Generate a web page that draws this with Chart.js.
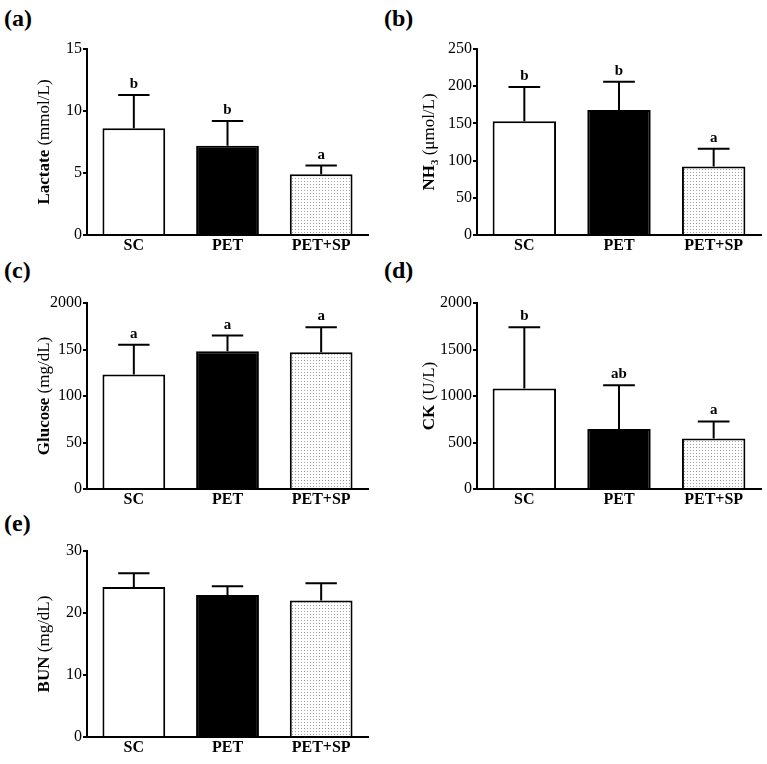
<!DOCTYPE html>
<html>
<head>
<meta charset="utf-8">
<script src="https://cdn.jsdelivr.net/npm/chart.js@4.4.1/dist/chart.umd.min.js"></script>
<style>
  body { margin: 0; background: #fff; }
  #wrap { position: relative; width: 767px; height: 764px; background: #fff; }
  .cell { position: absolute; }
  .tag { position: absolute; font: bold 24px "Liberation Serif", "Times New Roman", serif; color: #000; }
</style>
</head>
<body>
<div id="wrap">
  <div class="tag" style="left:4px;top:5px">(a)</div>
  <div class="tag" style="left:384px;top:5px">(b)</div>
  <div class="tag" style="left:4px;top:257px">(c)</div>
  <div class="tag" style="left:384px;top:257px">(d)</div>
  <div class="tag" style="left:4px;top:510px">(e)</div>
  <div class="cell" style="left:0;top:0;width:380px;height:254px"><canvas id="chartA"></canvas></div>
  <div class="cell" style="left:380px;top:0;width:387px;height:254px"><canvas id="chartB"></canvas></div>
  <div class="cell" style="left:0;top:254px;width:380px;height:254px"><canvas id="chartC"></canvas></div>
  <div class="cell" style="left:380px;top:254px;width:387px;height:254px"><canvas id="chartD"></canvas></div>
  <div class="cell" style="left:0;top:508px;width:380px;height:256px"><canvas id="chartE"></canvas></div>
</div>
<script>
// data
const groups = ['SC', 'PET', 'PET+SP'];

const lactateMean = [8.6, 7.2, 4.9];
const lactateSd = [2.7, 2.0, 0.7];
const lactateSig = ['b', 'b', 'a'];
const lactateTicks = ['0', '5', '10', '15'];

const nh3Mean = [153, 168, 92];
const nh3Sd = [46, 38, 24];
const nh3Sig = ['b', 'b', 'a'];
const nh3Ticks = ['0', '50', '100', '150', '200', '250'];

const glucoseMean = [123, 148, 147];
const glucoseSd = [32, 17, 27];
const glucoseSig = ['a', 'a', 'a'];
const glucoseTicks = ['0', '50', '100', '150', '2000'];

const ckMean = [1080, 646, 542];
const ckSd = [660, 470, 185];
const ckSig = ['b', 'ab', 'a'];
const ckTicks = ['0', '500', '1000', '1500', '2000'];

const bunMean = [24.2, 22.9, 22.0];
const bunSd = [2.2, 1.4, 2.8];
const bunSig = ['', '', ''];
const bunTicks = ['0', '10', '20', '30'];

const SERIF = '"Liberation Serif", "Times New Roman", serif';

// dotted fill for PET+SP
function dots() {
  const c = document.createElement('canvas');
  c.width = 3; c.height = 3;
  const g = c.getContext('2d');
  g.fillStyle = '#fff';
  g.fillRect(0, 0, 3, 3);
  g.fillStyle = '#a0a0a0';
  g.fillRect(1, 1, 1, 1);
  return g.createPattern(c, 'repeat');
}

// upper error bars + letters + rotated y title
const extras = {
  id: 'extras',
  afterDatasetsDraw(chart) {
    const o = chart.options.plugins.extras;
    const ctx = chart.ctx;
    const y = chart.scales.y;
    const meta = chart.getDatasetMeta(0);
    ctx.save();
    ctx.strokeStyle = '#000';
    ctx.lineWidth = 2;
    meta.data.forEach((bar, i) => {
      const top = y.getPixelForValue(o.mean[i] + o.sd[i]);
      const half = bar.width / 4;
      ctx.beginPath();
      ctx.moveTo(bar.x, bar.y);
      ctx.lineTo(bar.x, top);
      ctx.moveTo(bar.x - half, top);
      ctx.lineTo(bar.x + half, top);
      ctx.stroke();
      if (o.sig[i]) {
        ctx.fillStyle = '#000';
        ctx.font = 'bold 15px ' + SERIF;
        ctx.textAlign = 'center';
        ctx.textBaseline = 'alphabetic';
        ctx.fillText(o.sig[i], bar.x, top - 7);
      }
    });

    // y title made of pieces (bold name, normal unit)
    const area = chart.chartArea;
    ctx.translate(o.titleX, (area.top + area.bottom) / 2);
    ctx.rotate(-Math.PI / 2);
    ctx.textBaseline = 'middle';
    ctx.textAlign = 'left';
    let total = 0;
    o.title.forEach(p => { ctx.font = p[1]; total += ctx.measureText(p[0]).width; });
    let x = -total / 2;
    o.title.forEach(p => {
      ctx.font = p[1];
      ctx.fillText(p[0], x, p[2] || 0);
      x += ctx.measureText(p[0]).width;
    });
    ctx.restore();
  }
};

function makePanel(id, mean, sd, sig, ticks, max, step, title, titleX, pad) {
  return new Chart(document.getElementById(id), {
    type: 'bar',
    data: {
      labels: groups,
      datasets: [{
        data: mean,
        backgroundColor: ['#fff', '#000', dots()],
        borderColor: '#000',
        borderWidth: 2,
        borderSkipped: 'bottom',
        barPercentage: 0.67,
        categoryPercentage: 1
      }]
    },
    options: {
      responsive: true,
      maintainAspectRatio: false,
      animation: false,
      layout: { padding: pad },
      plugins: {
        legend: { display: false },
        tooltip: { enabled: false },
        extras: { mean: mean, sd: sd, sig: sig, title: title, titleX: titleX }
      },
      scales: {
        x: {
          grid: { display: false, drawTicks: false },
          border: { color: '#000', width: 2 },
          ticks: { color: '#000', padding: 1, font: { family: SERIF, size: 16, weight: 'bold' } },
          afterFit: s => { s.height = 16; }
        },
        y: {
          min: 0,
          max: max,
          grid: { drawOnChartArea: false, color: '#000', lineWidth: 2, tickLength: 4 },
          border: { color: '#000', width: 2 },
          ticks: {
            stepSize: step,
            color: '#000',
            padding: 1,
            font: { family: SERIF, size: 16 },
            callback: (v, i) => ticks[i]
          },
          afterFit: s => { s.width = 40; }
        }
      }
    },
    plugins: [extras]
  });
}

const B = 'bold 17px ' + SERIF;
const N = '17px ' + SERIF;

makePanel('chartA', lactateMean, lactateSd, lactateSig, lactateTicks, 15, 5,
  [['Lactate', B], [' (mmol/L)', N]], 45,
  { left: 47, right: 12, top: 49, bottom: 3 });
makePanel('chartB', nh3Mean, nh3Sd, nh3Sig, nh3Ticks, 250, 50,
  [['NH', B], ['3', 'bold 11px ' + SERIF, 5], [' (\u03bcmol/L)', N]], 50,
  { left: 57, right: 6, top: 49, bottom: 3 });
makePanel('chartC', glucoseMean, glucoseSd, glucoseSig, glucoseTicks, 200, 50,
  [['Glucose', B], [' (mg/dL)', N]], 45,
  { left: 47, right: 12, top: 49, bottom: 3 });
makePanel('chartD', ckMean, ckSd, ckSig, ckTicks, 2000, 500,
  [['CK', B], [' (U/L)', N]], 50,
  { left: 57, right: 6, top: 49, bottom: 3 });
makePanel('chartE', bunMean, bunSd, bunSig, bunTicks, 30, 10,
  [['BUN', B], [' (mg/dL)', N]], 45,
  { left: 47, right: 12, top: 43, bottom: 11 });
</script>
</body>
</html>
